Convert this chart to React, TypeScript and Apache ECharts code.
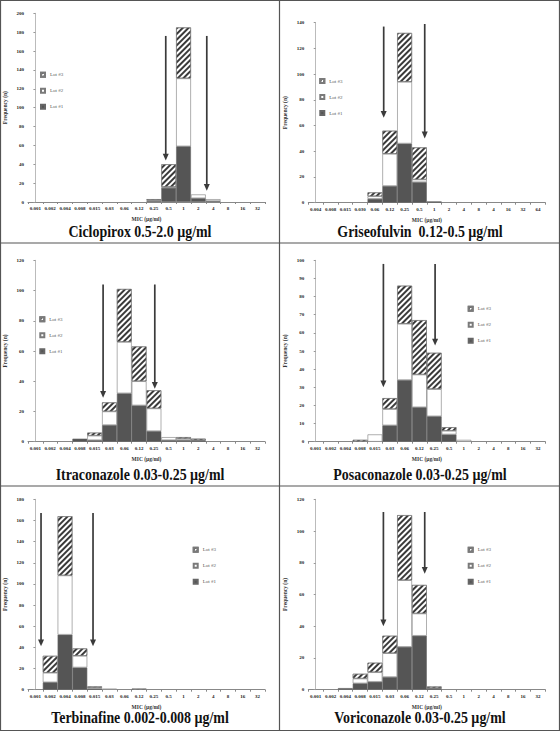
import React, { useEffect, useRef } from "react";
import * as echarts from "echarts";

// ---- data ----
const micLabels = ["0.001", "0.002", "0.004", "0.008", "0.015", "0.03", "0.06", "0.12", "0.25", "0.5", "1", "2", "4", "8", "16", "32"];
const griseoLabels = ["0.004", "0.008", "0.015", "0.030", "0.06", "0.12", "0.25", "0.5", "1", "2", "4", "8", "4", "16", "32", "64"];
const lotNames = ["Lot #1", "Lot #2", "Lot #3"];

const cicloLot1 = [0, 0, 0, 0, 0, 0, 0, 0, 1, 15, 59, 4, 1, 0, 0, 0];
const cicloLot2 = [0, 0, 0, 0, 0, 0, 0, 0, 1, 1, 72, 4, 2, 0, 0, 0];
const cicloLot3 = [0, 0, 0, 0, 0, 0, 0, 0, 1, 24, 54, 0, 0, 0, 0, 0];
const cicloArrows = [[8.8, 176, 44], [11.57, 176, 12]];

const griseoLot1 = [0, 0, 0, 0, 3, 13, 46, 16, 1, 0, 0, 0, 0, 0, 0, 0];
const griseoLot2 = [0, 0, 0, 0, 2, 25, 48, 2, 0, 0, 0, 0, 0, 0, 0, 0];
const griseoLot3 = [0, 0, 0, 0, 3, 18, 38, 25, 0, 0, 0, 0, 0, 0, 0, 0];
const griseoArrows = [[4.59, 137, 66], [7.36, 139, 50]];

const itraLot1 = [0, 0, 0, 2, 1, 11, 32, 24, 7, 1, 1, 1, 0, 0, 0, 0];
const itraLot2 = [0, 0, 0, 0, 3, 9, 34, 16, 15, 2, 1, 0, 0, 0, 0, 0];
const itraLot3 = [0, 0, 0, 0, 2, 6, 35, 23, 12, 0, 1, 1, 0, 0, 0, 0];
const itraArrows = [[4.57, 104, 29], [8.06, 104, 35]];

const posaLot1 = [0, 0, 0, 0, 0, 9, 34, 19, 14, 4, 0, 0, 0, 0, 0, 0];
const posaLot2 = [0, 0, 0, 0, 4, 9, 31, 18, 15, 2, 1, 0, 0, 0, 0, 0];
const posaLot3 = [0, 0, 0, 1, 0, 6, 21, 30, 20, 2, 0, 0, 0, 0, 0, 0];
const posaArrows = [[4.57, 98, 30], [8.06, 98, 53]];

const terbLot1 = [0, 7, 52, 21, 1, 0, 0, 0, 0, 0, 0, 0, 0, 0, 0, 0];
const terbLot2 = [0, 9, 56, 11, 1, 1, 0, 0, 0, 0, 0, 0, 0, 0, 0, 0];
const terbLot3 = [0, 16, 56, 7, 1, 0, 0, 1, 0, 0, 0, 0, 0, 0, 0, 0];
const terbArrows = [[0.38, 167, 41], [3.89, 167, 41]];

const voriLot1 = [0, 0, 1, 4, 5, 8, 27, 34, 1, 0, 0, 0, 0, 0, 0, 0];
const voriLot2 = [0, 0, 0, 3, 6, 15, 42, 14, 0, 0, 0, 0, 0, 0, 0, 0];
const voriLot3 = [0, 0, 0, 3, 6, 11, 41, 18, 1, 0, 0, 0, 0, 0, 0, 0];
const voriArrows = [[4.57, 112, 40], [7.36, 112, 73]];

const titles = [
  "Ciclopirox 0.5-2.0 µg/ml",
  "Griseofulvin  0.12-0.5 µg/ml",
  "Itraconazole 0.03-0.25 µg/ml",
  "Posaconazole 0.03-0.25 µg/ml",
  "Terbinafine 0.002-0.008 µg/ml",
  "Voriconazole 0.03-0.25 µg/ml",
];
const yMaxes = [200, 140, 120, 100, 180, 120];
const yIntervals = [20, 20, 20, 10, 20, 20];

// ---- layout / style ----
const FONT = '"Liberation Serif", "Times New Roman", serif';

const panels = [
  { labels: micLabels, lots: [cicloLot1, cicloLot2, cicloLot3], arrows: cicloArrows,
    grid: { left: 28, top: 13.3, width: 237, height: 188.7 }, legend: { left: 40, top: 71.7 }, title: [140, 232] },
  { labels: griseoLabels, lots: [griseoLot1, griseoLot2, griseoLot3], arrows: griseoArrows,
    grid: { left: 308.3, top: 22.7, width: 237, height: 180 }, legend: { left: 319.3, top: 78 }, title: [420, 232] },
  { labels: micLabels, lots: [itraLot1, itraLot2, itraLot3], arrows: itraArrows,
    grid: { left: 28, top: 260.3, width: 237, height: 181.4 }, legend: { left: 39.3, top: 316.3 }, title: [140, 475] },
  { labels: micLabels, lots: [posaLot1, posaLot2, posaLot3], arrows: posaArrows,
    grid: { left: 308.3, top: 260.3, width: 237, height: 181.4 }, legend: { left: 467.7, top: 305.7 }, title: [420, 475] },
  { labels: micLabels, lots: [terbLot1, terbLot2, terbLot3], arrows: terbArrows,
    grid: { left: 28, top: 499.3, width: 237, height: 190.4 }, legend: { left: 192.7, top: 546.7 }, title: [140, 718] },
  { labels: micLabels, lots: [voriLot1, voriLot2, voriLot3], arrows: voriArrows,
    grid: { left: 308.3, top: 499.3, width: 237, height: 190.4 }, legend: { left: 467.7, top: 546.7 }, title: [420, 718] },
];

const hatchDecal = {
  symbol: "rect",
  symbolSize: 1,
  color: "#3a3a3a",
  backgroundColor: "#ffffff",
  dashArrayX: [1, 0],
  dashArrayY: [2, 2],
  rotation: -Math.PI / 4,
};

const lotStyles = [
  { color: "#555555", borderColor: "#666666", borderWidth: 0.6 },
  { color: "#ffffff", borderColor: "#7a7a7a", borderWidth: 0.6 },
  { color: "#ffffff", borderColor: "#7a7a7a", borderWidth: 0.6, decal: hatchDecal },
];

const tickLabelStyle = { fontSize: 5, fontFamily: FONT, fontWeight: "bold", color: "#222" };
const nameStyle = { fontSize: 5.5, fontFamily: FONT, fontWeight: "bold", color: "#333" };

function arrowRender(params: any, api: any) {
  const x = api.value(0);
  const top = api.coord([x, api.value(1)]);
  const tip = api.coord([x, api.value(2)]);
  const hw = 3;
  const hh = 6.8;
  return {
    type: "group",
    children: [
      { type: "line", shape: { x1: top[0], y1: top[1], x2: tip[0], y2: tip[1] - hh + 1 },
        style: { stroke: "#3a3a3a", lineWidth: 1.7 } },
      { type: "polygon", shape: { points: [[tip[0] - hw, tip[1] - hh], [tip[0] + hw, tip[1] - hh], [tip[0], tip[1]]] },
        style: { fill: "#3a3a3a" } },
    ],
  };
}

function buildOption() {
  const grid: any[] = [];
  const xAxis: any[] = [];
  const yAxis: any[] = [];
  const series: any[] = [];
  const legend: any[] = [];
  const graphic: any[] = [];

  panels.forEach((p, i) => {
    grid.push({ ...p.grid, containLabel: false });
    xAxis.push({
      type: "category", gridIndex: i, data: p.labels,
      axisLine: { lineStyle: { color: "#888", width: 1 } },
      axisTick: { show: true, length: 2, lineStyle: { color: "#888" } },
      axisLabel: { interval: 0, margin: 4, ...tickLabelStyle },
      name: "MIC (µg/ml)", nameLocation: "middle", nameGap: 14, nameTextStyle: nameStyle,
      splitLine: { show: false },
    });
    xAxis.push({ type: "value", gridIndex: i, min: -0.5, max: 15.5, show: false });
    yAxis.push({
      type: "value", gridIndex: i, min: 0, max: yMaxes[i], interval: yIntervals[i],
      axisLine: { show: true, lineStyle: { color: "#bbb", width: 1 } },
      axisTick: { show: true, length: 2, lineStyle: { color: "#999" } },
      axisLabel: { margin: 4, ...tickLabelStyle },
      splitLine: { show: false },
      name: "Frequency (n)", nameLocation: "middle", nameGap: 20, nameTextStyle: nameStyle,
    });
    p.lots.forEach((vals, k) => {
      series.push({
        type: "bar", name: lotNames[k], xAxisIndex: 2 * i, yAxisIndex: i, stack: "s" + i,
        barWidth: "100%", data: vals.map((v) => (v === 0 ? null : v)),
        itemStyle: lotStyles[k], emphasis: { disabled: true },
      });
    });
    series.push({
      type: "custom", name: "arrows" + i, xAxisIndex: 2 * i + 1, yAxisIndex: i,
      data: p.arrows, renderItem: arrowRender, encode: { x: 0, y: [1, 2] }, z: 10, silent: true,
    });
    legend.push({
      orient: "vertical", left: p.legend.left, top: p.legend.top, padding: 0,
      itemWidth: 4, itemHeight: 4, itemGap: 10, icon: "rect",
      data: ["Lot #3", "Lot #2", "Lot #1"], selectedMode: false,
      textStyle: { fontSize: 5, lineHeight: 6, fontFamily: FONT, color: "#555" },
    });
    graphic.push({
      type: "text", x: p.title[0], y: p.title[1], scaleX: 0.87, silent: true,
      style: { text: titles[i], fontSize: 16, fontWeight: "bold", fontFamily: FONT,
        align: "center", verticalAlign: "middle", fill: "#111" },
    });
  });

  graphic.push(
    { type: "rect", shape: { x: 0.5, y: 0.5, width: 559, height: 730 }, style: { fill: "none", stroke: "#555", lineWidth: 1.2 }, silent: true },
    { type: "line", shape: { x1: 279.5, y1: 0, x2: 279.5, y2: 731 }, style: { stroke: "#555", lineWidth: 1.2 }, silent: true },
    { type: "line", shape: { x1: 0, y1: 243, x2: 560, y2: 243 }, style: { stroke: "#555", lineWidth: 1.2 }, silent: true },
    { type: "line", shape: { x1: 0, y1: 486, x2: 560, y2: 486 }, style: { stroke: "#555", lineWidth: 1.2 }, silent: true },
  );

  return {
    animation: false,
    backgroundColor: "#ffffff",
    textStyle: { fontFamily: FONT },
    grid, xAxis, yAxis, series, legend, graphic,
  };
}

export default function App() {
  const ref = useRef<HTMLDivElement>(null);
  useEffect(() => {
    const chart = echarts.init(ref.current!, null, { renderer: "svg" });
    chart.setOption(buildOption() as any);
    return () => chart.dispose();
  }, []);
  return (
    <div
      ref={ref}
      style={{ position: "absolute", left: 0, top: 0, width: 560, height: 731, background: "#fff" }}
    />
  );
}
